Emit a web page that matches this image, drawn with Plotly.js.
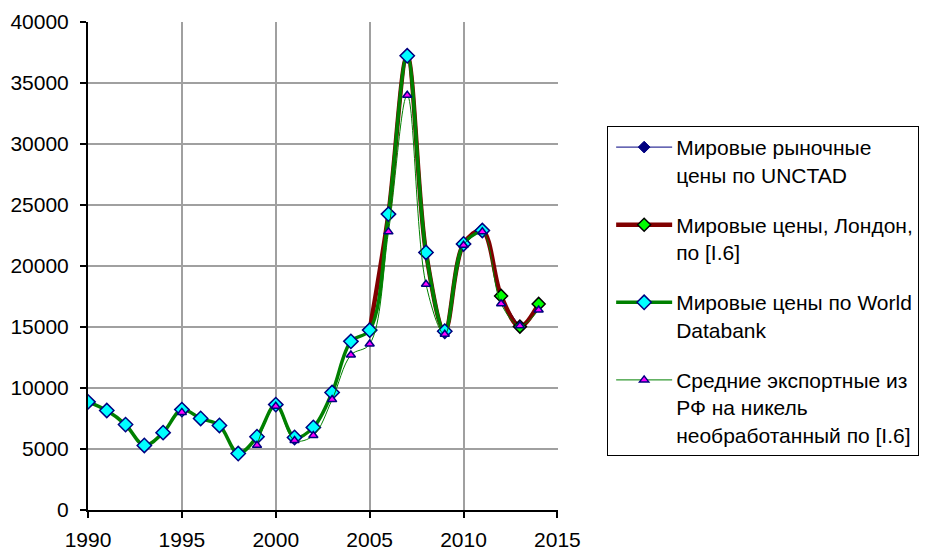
<!DOCTYPE html>
<html>
<head>
<meta charset="utf-8">
<script src="https://cdn.plot.ly/plotly-3.0.1.min.js"></script>
<style>
html,body{margin:0;padding:0;background:#fff;}
#chart{width:932px;height:553px;}
</style>
</head>
<body>
<div id="chart"></div>
<script>
const years = [1990,1991,1992,1993,1994,1995,1996,1997,1998,1999,2000,2001,2002,2003,2004,2005,2006,2007,2008,2009,2010,2011,2012,2013,2014];
const unctad = [8864,8156,7001,5293,6340,8228,7501,6927,4630,6011,8638,5945,6772,9629,13823,14744,24254,37230,21111,14655,21809,22910,17548,15032,null];
const london = [null,null,null,null,null,null,null,null,null,null,null,null,null,null,null,14744,24254,37230,21111,14655,21809,22910,17548,15032,16893];
const worldBank = [8864,8156,7001,5293,6340,8228,7501,6927,4630,6011,8638,5945,6772,9629,13823,14744,24254,37230,21111,14655,21809,22910,null,null,null];
const exportRF = [null,null,null,null,null,8000,null,null,null,5300,8500,5700,6100,9050,12700,13600,22800,34000,18500,14400,21700,22800,16900,15100,16400];
const names = [
  "Мировые рыночные<br>цены по UNCTAD",
  "Мировые цены, Лондон,<br>по [I.6]",
  "Мировые цены по World<br>Databank",
  "Средние экспортные из<br>РФ на никель<br>необработанный по [I.6]"
];

const traces = [
  {x: years, y: unctad, name: names[0], legendgroup: "a", type: "scatter", mode: "lines+markers",
   line: {color: "#000080", width: 1, shape: "spline"},
   marker: {symbol: "diamond", size: 9, color: "#000080", line: {color: "#000080", width: 1}}},
  {x: years, y: london, name: names[1], legendgroup: "b", type: "scatter", mode: "lines+markers",
   line: {color: "#800000", width: 4.5, shape: "spline"},
   marker: {symbol: "diamond", size: 10, color: "#00FF00", line: {color: "#000000", width: 1.5}}},
  {x: years, y: worldBank, name: names[2], legendgroup: "c", type: "scatter", mode: "lines+markers",
   line: {color: "#008000", width: 3.5, shape: "spline"},
   marker: {symbol: "diamond", size: 11, color: "#00FFFF", line: {color: "#000080", width: 1.5}}},
  {x: years, y: exportRF, name: names[3], legendgroup: "d", type: "scatter", mode: "lines+markers",
   line: {color: "#008000", width: 1, shape: "spline"},
   marker: {symbol: "triangle-up", size: 8, color: "#FF00FF", line: {color: "#000080", width: 1.5}}}
];

const layout = {
  width: 932, height: 553,
  margin: {l: 88, r: 369, t: 22, b: 43, pad: 0},
  paper_bgcolor: "#fff", plot_bgcolor: "#fff",
  font: {family: "Liberation Sans, Arial, sans-serif", size: 21, color: "#000"},
  showlegend: true,
  legend: {
    x: 1.7684, xanchor: "right", y: 0.787, yanchor: "top",
    bordercolor: "#000", borderwidth: 1, bgcolor: "#fff",
    font: {size: 21, family: "Liberation Sans, Arial, sans-serif"},
    traceorder: "grouped", tracegroupgap: 20, valign: "top", itemwidth: 58
  },
  xaxis: {
    range: [1990, 2015.03], tickmode: "linear", tick0: 1990, dtick: 5,
    showline: true, linecolor: "#000", linewidth: 2,
    ticks: "outside", ticklen: 6, tickwidth: 2, tickcolor: "#000",
    showgrid: true, gridcolor: "#A0A0A0", gridwidth: 2, zeroline: false,
    tickfont: {size: 21}, ticklabelstandoff: 4
  },
  yaxis: {
    range: [0, 40000], tickmode: "linear", tick0: 0, dtick: 5000,
    showline: true, linecolor: "#000", linewidth: 2,
    ticks: "outside", ticklen: 6, tickwidth: 2, tickcolor: "#000",
    showgrid: true, gridcolor: "#A0A0A0", gridwidth: 2, zeroline: false,
    tickfont: {size: 21}, tickformat: "d", ticklabelstandoff: 7
  }
};

Plotly.newPlot("chart", traces, layout, {displayModeBar: false, staticPlot: true}).then(function(gd){
  // lengthen legend sample lines and center the markers on them (Excel style)
  gd.querySelectorAll('.legend .legendlines path').forEach(function(p){ p.setAttribute('d', 'M8,0h56'); });
  gd.querySelectorAll('.legend .legendpoints path.scatterpts').forEach(function(p){
    p.setAttribute('transform', 'translate(36,0)');
  });
});
</script>
</body>
</html>
